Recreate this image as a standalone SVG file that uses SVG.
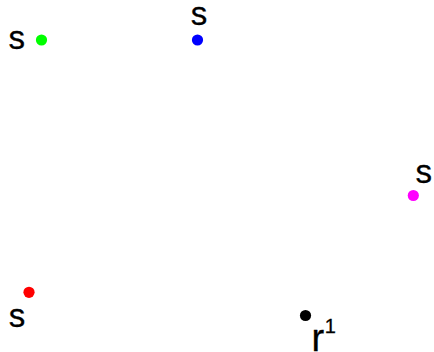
<svg xmlns="http://www.w3.org/2000/svg" width="434" height="352" viewBox="0 0 434 352">
<style>
.lbl{font-family:"Liberation Sans",Arial,sans-serif;font-size:33px;fill:#000;text-anchor:middle;stroke:#000;stroke-width:0.3px}
</style>
<rect width="434" height="352" fill="#fff"/>
<g id="node-green"><circle cx="41.5" cy="40" r="5.6" fill="#00ff00"/><text class="lbl" x="16.7" y="49">s</text></g>
<g id="node-blue"><circle cx="197.5" cy="40" r="5.6" fill="#0000ff"/><text class="lbl" x="199" y="24.5">s</text></g>
<g id="node-magenta"><circle cx="413.3" cy="195.5" r="5.6" fill="#ff00ff"/><text class="lbl" x="423.7" y="183.3">s</text></g>
<g id="node-red"><circle cx="29" cy="292.3" r="5.6" fill="#ff0000"/><text class="lbl" x="17" y="326.5">s</text></g>
<g id="node-black"><circle cx="305.5" cy="315.5" r="5.6" fill="#000"/><text x="311.5" y="350.5" font-family="Liberation Sans, Arial, sans-serif" font-size="38" fill="#000" stroke="#000" stroke-width="0.3">r<tspan font-size="20" x="324.8" y="333">1</tspan></text></g>
<g id="connectors"></g>
</svg>
